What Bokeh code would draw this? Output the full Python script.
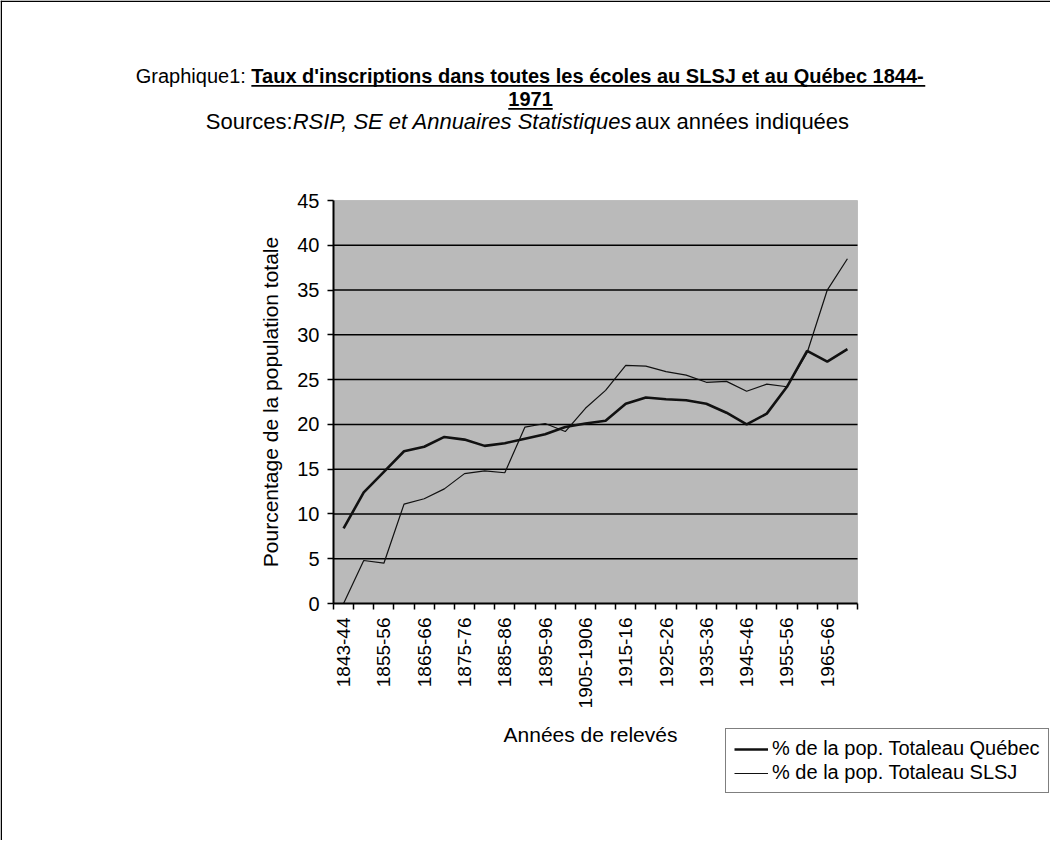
import math
from bokeh.plotting import figure
from bokeh.models import (FixedTicker, Label, BoxAnnotation, Legend, LegendItem,
                          ColumnDataSource, Range1d)
from bokeh.embed import file_html
from bokeh.resources import INLINE

# ---------------- data ----------------
periods = ["1843-44", "1850-51", "1855-56", "1860-61", "1865-66", "1870-71",
           "1875-76", "1880-81", "1885-86", "1890-91", "1895-96", "1900-01",
           "1905-1906", "1910-11", "1915-16", "1920-21", "1925-26", "1930-31",
           "1935-36", "1940-41", "1945-46", "1950-51", "1955-56", "1960-61",
           "1965-66", "1970-71"]
quebec = [8.4, 12.4, 14.7, 17.0, 17.5, 18.6, 18.3, 17.6, 17.9, 18.4, 18.9, 19.7,
          20.1, 20.4, 22.3, 23.0, 22.8, 22.7, 22.3, 21.3, 20.0, 21.2, 24.2, 28.2,
          27.0, 28.4]
slsj = [0.0, 4.8, 4.5, 11.1, 11.7, 12.8, 14.5, 14.8, 14.6, 19.7, 20.1, 19.2,
        21.8, 23.8, 26.6, 26.5, 25.9, 25.5, 24.7, 24.8, 23.7, 24.5, 24.2, 28.0,
        35.0, 38.5]
y_ticks = [0, 5, 10, 15, 20, 25, 30, 35, 40, 45]
legend_labels = ["% de la pop. Totaleau Québec", "% de la pop. Totaleau SLSJ"]
title_line1 = [("Graphique1: ", "normal"),
               ("Taux d'inscriptions dans toutes les écoles au SLSJ et au Québec 1844-", "bold")]
title_line2 = [("1971", "bold")]
title_line3 = [("Sources:", "normal"), ("RSIP, SE et Annuaires Statistiques", "italic"),
               (" aux années indiquées", "normal")]
x_title = "Années de relevés"
y_title = "Pourcentage de la population totale"

FONT = "Liberation Sans"

# approximate Arial advance widths (1/1000 em), used to chain mixed-style text runs
_REG = {" ": 278, "'": 191, ",": 278, "-": 333, ".": 278, ":": 278, "%": 889,
        "A": 667, "E": 667, "G": 778, "I": 278, "J": 500, "L": 556, "P": 667,
        "Q": 778, "R": 722, "S": 667, "T": 611,
        "a": 556, "b": 556, "c": 500, "d": 556, "e": 556, "é": 556, "h": 556,
        "i": 222, "l": 222, "n": 556, "o": 556, "p": 556, "q": 556, "r": 333,
        "s": 500, "t": 278, "u": 556, "v": 500, "x": 500}
_BOLD = {" ": 278, "'": 238, "-": 333, "A": 722, "J": 556, "L": 611, "Q": 778,
         "S": 667, "T": 611, "a": 556, "b": 611, "c": 556, "d": 611, "e": 556,
         "é": 556, "i": 278, "l": 278, "n": 611, "o": 611, "p": 611, "r": 389,
         "s": 556, "t": 333, "u": 611, "x": 556}

def text_w(s, size, style):
    tab = _BOLD if style == "bold" else _REG
    return sum(tab.get(ch, 556) for ch in s) * size / 1000.0

# ---------------- geometry (px from the page's top-left) ----------------
W, H = 1050, 840
FL, FT, FR, FB = 333, 200, 857, 603      # plot area of the chart
TEXT_DY = 8                              # label baseline correction
n = len(periods)
x0, x1 = -0.5, n - 0.5
y0, y1 = 0, 45
kx = (FR - FL) / (x1 - x0)
ky = (FB - FT) / (y1 - y0)

# the figure frame fills the whole canvas; the chart's axes are pinned in place
p = figure(width=W, height=H, output_backend="svg", toolbar_location=None,
           x_range=Range1d(x0 - FL / kx, x1 + (W - FR) / kx),
           y_range=Range1d(y0 - (H - FB) / ky, y1 + FT / ky),
           min_border_left=0, min_border_right=0, min_border_top=0, min_border_bottom=0)
p.background_fill_color = "white"
p.border_fill_color = "white"
p.outline_line_color = None

# grey plot area with its thin border
p.add_layout(BoxAnnotation(left=x0, right=x1, bottom=y0, top=y1, level="image",
                           fill_color="#bababa", fill_alpha=1,
                           line_color="#7a7a7a", line_width=1))

# horizontal gridlines limited to the plot area
grid_y = y_ticks[1:-1]
p.segment(x0=[x0] * len(grid_y), x1=[x1] * len(grid_y), y0=grid_y, y1=grid_y,
          line_color="black", line_width=1.5)

src = ColumnDataSource(dict(x=list(range(n)), quebec=quebec, slsj=slsj))
r1 = p.line("x", "quebec", source=src, line_color="#111111", line_width=2.6)
r2 = p.line("x", "slsj", source=src, line_color="#111111", line_width=1.2)

# y axis
yax = p.yaxis[0]
yax.fixed_location = x0
yax.bounds = (y0, y1)
yax.ticker = FixedTicker(ticks=y_ticks)
yax.major_tick_out = 6
yax.major_tick_in = 0
yax.minor_tick_line_color = None
yax.axis_line_width = 2
yax.axis_line_color = "black"
yax.major_tick_line_width = 1.5
yax.major_label_text_font = FONT
yax.major_label_text_font_size = "20px"
yax.major_label_text_color = "black"
yax.major_label_standoff = 8

# x axis: labels on every other period, tick marks between periods
xax = p.xaxis[0]
xax.fixed_location = y0
xax.bounds = (x0, x1)
label_pos = list(range(0, n, 2))
xax.ticker = FixedTicker(ticks=label_pos, minor_ticks=[i - 0.5 for i in range(n + 1)])
xax.major_label_overrides = {i: periods[i] for i in label_pos}
xax.major_label_orientation = math.pi / 2
xax.major_tick_out = 0
xax.major_tick_in = 0
xax.minor_tick_out = 6
xax.minor_tick_in = 0
xax.minor_tick_line_color = "black"
xax.minor_tick_line_width = 1.5
xax.axis_line_width = 2
xax.axis_line_color = "black"
xax.major_label_text_font = FONT
xax.major_label_text_font_size = "19px"
xax.major_label_text_color = "black"
xax.major_label_standoff = 8

p.xgrid.visible = False
p.ygrid.visible = False

def lab(text, X, Y, size, style="normal", align="left", angle=0.0, baseline="alphabetic"):
    p.add_layout(Label(x=X, y=H - Y, x_units="screen", y_units="screen",
                       text=text, text_font=FONT, text_font_size=f"{size}px",
                       text_font_style=style, text_align=align, angle=angle,
                       text_baseline=baseline, text_color="black"))

def rule(X0, X1, Y0, Y1):
    p.add_layout(BoxAnnotation(left=X0, right=X1, top=H - Y0, bottom=H - Y1,
                               left_units="screen", right_units="screen",
                               top_units="screen", bottom_units="screen",
                               fill_color="black", fill_alpha=1, line_color=None))

def title_line(runs, center_x, baseline_y, size, underline_bold=False):
    total = sum(text_w(t, size, st) for t, st in runs)
    x = center_x - total / 2.0
    for t, st in runs:
        w = text_w(t, size, st)
        lab(t, x, baseline_y - TEXT_DY, size, style=st)
        if underline_bold and st == "bold":
            rule(x, x + w, baseline_y + 1.5, baseline_y + 3.2)
        x += w

title_line(title_line1, 530, 83, 20, underline_bold=True)
title_line(title_line2, 530, 106, 20, underline_bold=True)
title_line(title_line3, 530, 129, 22)

# axis titles (centred on the plot area, as in the original)
lab(y_title, 270, (FT + FB) / 2, 21, align="center", angle=math.pi / 2, baseline="middle")
lab(x_title, (FL + FR) / 2 - 5, 742 - TEXT_DY, 21, align="center")

# legend (lower right, below the axis labels)
legend = Legend(items=[LegendItem(label=legend_labels[0], renderers=[r1]),
                       LegendItem(label=legend_labels[1], renderers=[r2])],
                location=(725, H - 793), orientation="vertical",
                label_text_font=FONT, label_text_font_size="20px",
                label_text_color="black", glyph_width=34, glyph_height=18,
                label_height=18, label_standoff=4, spacing=1, padding=8,
                margin=0, border_line_color="black", border_line_width=1,
                background_fill_color="white", background_fill_alpha=1)
p.add_layout(legend, "center")

# outer frame (left and top edges)
rule(0, 1.5, 0, H)
rule(0, W, 0, 1.5)

open("out.html", "w").write(file_html(p, INLINE))
